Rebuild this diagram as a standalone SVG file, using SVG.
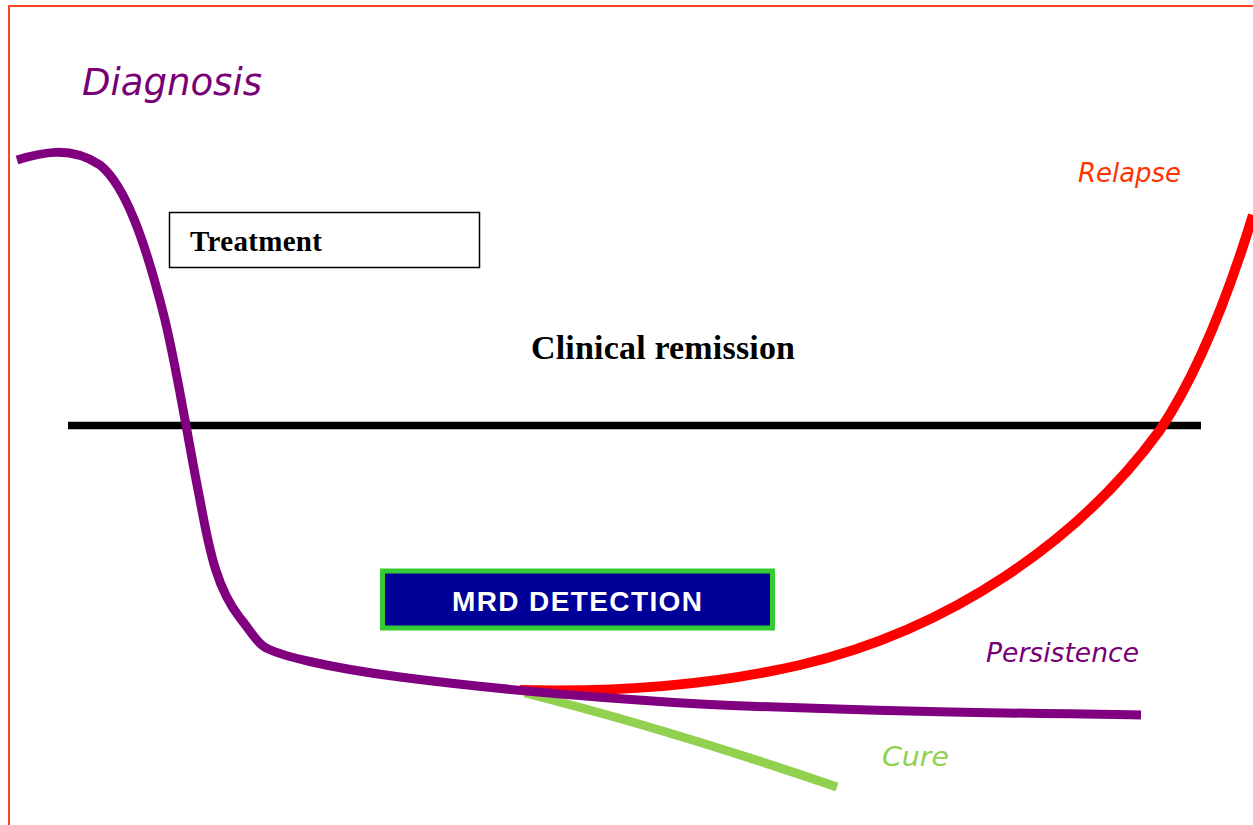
<svg xmlns="http://www.w3.org/2000/svg" width="1253" height="825" viewBox="0 0 1253 825">
<style>
.lbl{font-family:"DejaVu Sans",Verdana,sans-serif;font-style:italic;}
.serif{font-family:"Liberation Serif","Times New Roman",serif;font-weight:bold;fill:#000;}
.curve{fill:none;stroke-linecap:butt;stroke-linejoin:round;}
</style>
<rect x="0" y="0" width="1253" height="825" fill="#fff"/>
<path d="M9,830 L9,6 L1260,6" fill="none" stroke="#FF4422" stroke-width="2"/>
<g id="diagnosis"><text class="lbl" x="82" y="95" font-size="37" fill="#770077" textLength="180" lengthAdjust="spacingAndGlyphs">Diagnosis</text></g>
<g id="relapse-label"><text class="lbl" x="1078" y="182" font-size="26" fill="#FF3300" textLength="103" lengthAdjust="spacingAndGlyphs">Relapse</text></g>
<g id="treatment"><rect x="169.5" y="212.5" width="310" height="55" fill="#fff" stroke="#000" stroke-width="1.5"/><text class="serif" x="190" y="251" font-size="29" textLength="132" lengthAdjust="spacing">Treatment</text></g>
<g id="clinical-remission"><text class="serif" x="531" y="359" font-size="34" textLength="264" lengthAdjust="spacing">Clinical remission</text></g>
<g id="threshold"><line x1="68" y1="425.5" x2="1201" y2="425.5" stroke="#000" stroke-width="7.5"/></g>
<g id="mrd"><rect x="382.5" y="571" width="390" height="57" fill="#000099" stroke="#33CC33" stroke-width="5"/><text x="577" y="611" font-family="Liberation Sans,Arial,sans-serif" font-weight="bold" font-size="28" fill="#fff" text-anchor="middle" textLength="250" lengthAdjust="spacing">MRD DETECTION</text></g>
<g id="persistence-label"><text class="lbl" x="986" y="662" font-size="27" fill="#770077" textLength="153" lengthAdjust="spacingAndGlyphs">Persistence</text></g>
<g id="cure-label"><text class="lbl" x="882" y="766" font-size="27" fill="#92D050" textLength="67" lengthAdjust="spacingAndGlyphs">Cure</text></g>
<g id="connectors">
<path class="curve" d="M525,693 C600,712 700,740 837,787" stroke="#92D050" stroke-width="9"/>
<path class="curve" d="M520,690 C600,692 700,688 800,665 C950,630 1080,540 1160,430 C1200,370 1230,290 1253,215" stroke="#FF0000" stroke-width="10"/>
<path class="curve" d="M17,160 C40,153 70,145 100,165 C125,185 145,240 165,320 C178,375 188,440 200,500 C210,555 218,590 240,618 C250,630 255,640 263,646 C275,655 330,668 400,677 C500,690 600,698 700,704 C850,711 1000,713 1141,715" stroke="#800080" stroke-width="9"/>
</g>
</svg>
